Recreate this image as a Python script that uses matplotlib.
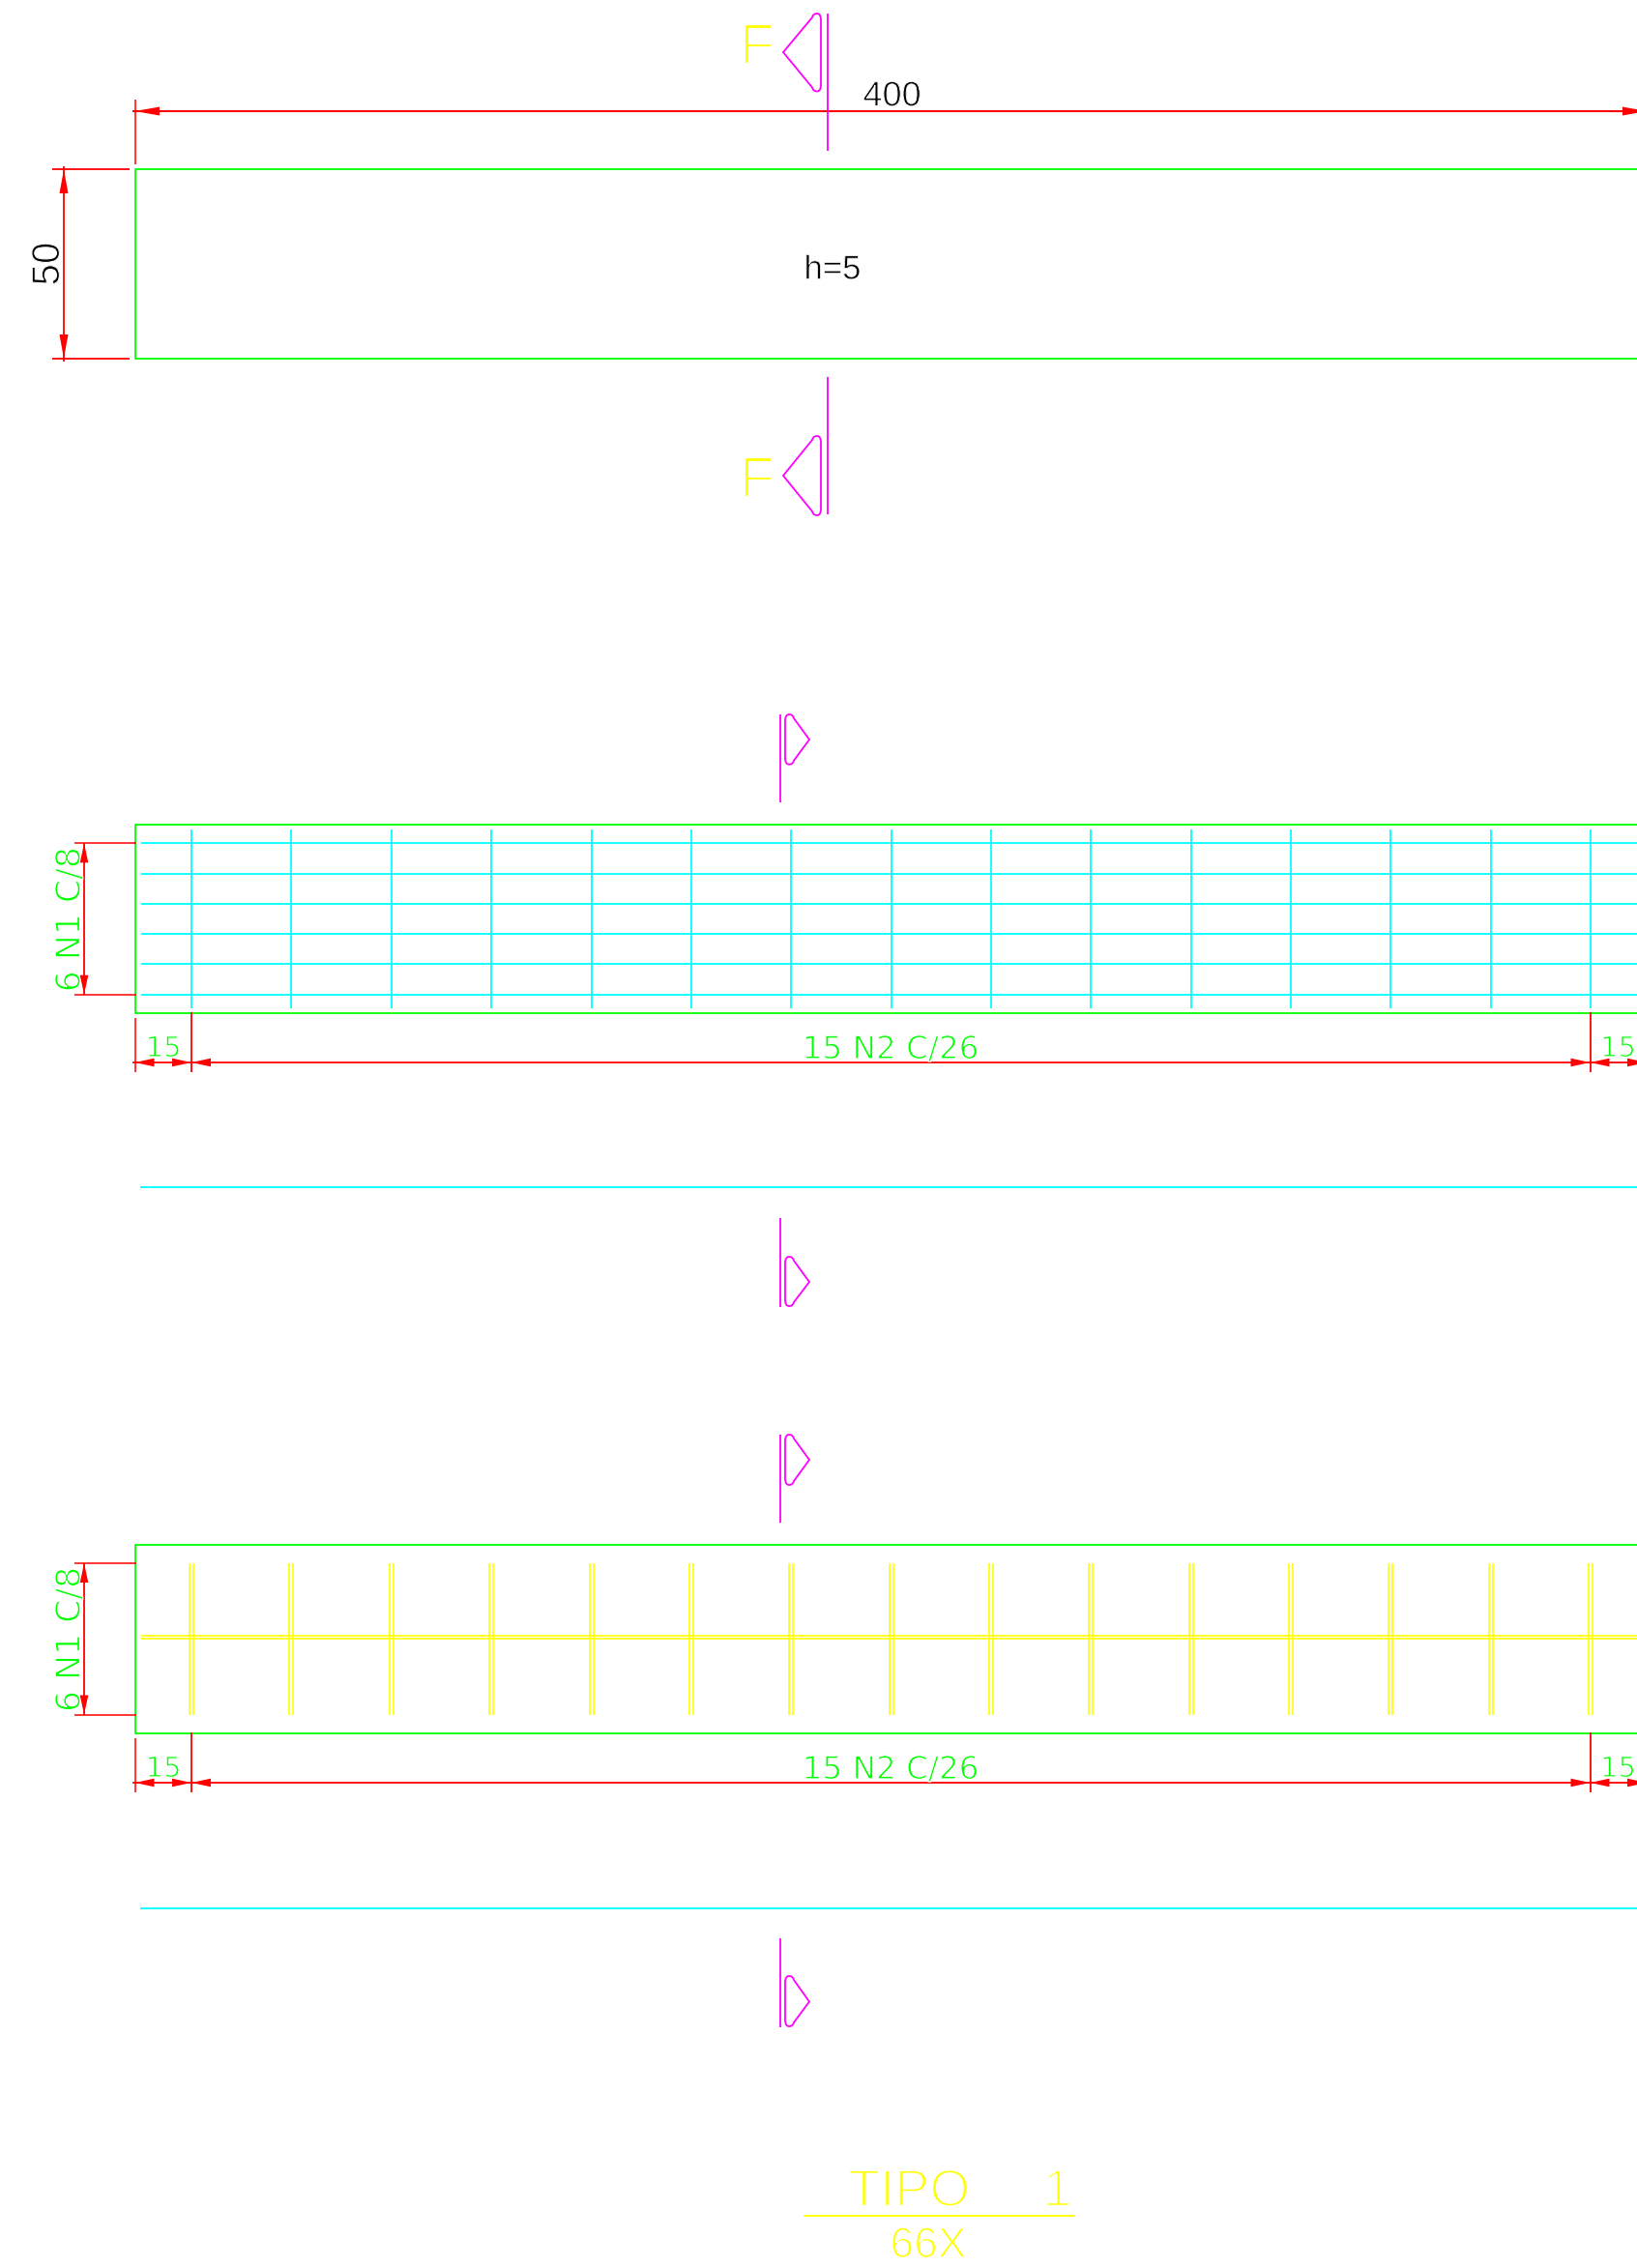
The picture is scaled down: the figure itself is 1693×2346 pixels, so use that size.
import matplotlib
matplotlib.use("Agg")
import matplotlib.pyplot as plt
import matplotlib.patheffects as pe
from matplotlib.path import Path
from matplotlib.patches import PathPatch

RED = "#ff0000"
GREEN = "#00ff00"
CYAN = "#00ffff"
MAGENTA = "#ff00ff"
YELLOW = "#ffff00"

W = 1693
H = 2346

bar_x = [198, 301.4, 404.7, 508, 611.5, 715, 818, 921.5, 1025, 1128, 1231.5, 1335, 1438, 1541.5, 1644.5]
n1_y = [872.3, 903.5, 935, 966, 997, 1028.7]
plan_box = [175.4, 371]
mesh_box = [852.7, 1048]
side_box = [1597.7, 1793]
side_bar_top = 1617
side_bar_bot = 1773.5
side_main_y = [1691.7, 1695.3]
loose_bar_y = [1228, 1973.7]

fig = plt.figure(figsize=(W / 100, H / 100), dpi=100)
ax = fig.add_axes([0, 0, 1, 1])
ax.set_xlim(0, W)
ax.set_ylim(H, 0)
ax.axis("off")


def line(xs, ys, color, lw=1.1):
    ax.plot(xs, ys, color=color, lw=lw, solid_capstyle="butt")


def head(xs, ys):
    # arrowheads go over the labels, the labels' thinning stroke would eat them otherwise
    ax.fill(xs, ys, color=RED, lw=0, zorder=5)


def arrow(x, y, dx, dy):
    # filled dimension arrowhead, tip at x, y
    length = 20
    half = 4.3
    if dx != 0:
        head([x, x + dx * length, x + dx * length], [y, y - half, y + half])
    else:
        head([x, x - half, x + half], [y, y + dy * length, y + dy * length])


def label(x, y, s, size, color, rotation=0, family="DejaVu Sans", thin=0.9):
    ax.text(x, y, s, fontsize=size, color=color, rotation=rotation, ha="center", va="center",
            family=family, path_effects=[pe.Normal(), pe.Stroke(linewidth=thin, foreground="white")])


def flag(x_line, line_top, line_bot, x_base, x_tip, top, bot, tip_y):
    line([x_line, x_line], [line_top, line_bot], MAGENTA, lw=1.3)
    s = 1 if x_tip > x_base else -1
    verts = [(x_base, top + 7), (x_base, top), (x_base + s * 4, top), (x_base + s * 8, top), (x_base + s * 9, top + 4),
             (x_tip, tip_y),
             (x_base + s * 9, bot - 4), (x_base + s * 8, bot), (x_base + s * 4, bot), (x_base, bot), (x_base, bot - 7),
             (x_base, top + 7)]
    codes = [Path.MOVETO, Path.CURVE3, Path.CURVE3, Path.CURVE3, Path.CURVE3,
             Path.LINETO,
             Path.LINETO, Path.CURVE3, Path.CURVE3, Path.CURVE3, Path.CURVE3,
             Path.LINETO]
    ax.add_patch(PathPatch(Path(verts, codes), fill=False, edgecolor=MAGENTA, lw=1.3))


def box(y_top, y_bot):
    line([W, 139.5, 139.5, W], [y_top, y_top, y_bot, y_bot], GREEN, lw=1.3)


def bottom_dims(y_box_bot, y_dim):
    line([139.5, 139.5], [y_box_bot + 5, y_dim + 10], RED)
    line([198, 198], [y_box_bot - 1, y_dim + 10], RED, lw=1.3)
    line([1644.5, 1644.5], [y_box_bot - 1, y_dim + 10], RED, lw=1.3)
    line([137, W], [y_dim, y_dim], RED, lw=1.3)
    arrow(139.5, y_dim, 1, 0)
    arrow(198, y_dim, -1, 0)
    arrow(198, y_dim, 1, 0)
    arrow(1644.5, y_dim, -1, 0)
    arrow(1644.5, y_dim, 1, 0)
    arrow(1703, y_dim, -1, 0)
    label(169, y_dim - 14, "15", 21, GREEN)
    label(1673.5, y_dim - 14, "15", 21, GREEN)
    label(921, y_dim - 13.5, "15 N2 C/26", 23.5, GREEN)


def left_dim(y_top, y_bot):
    line([77, 141], [y_top, y_top], RED)
    line([77, 141], [y_bot, y_bot], RED)
    line([87, 87], [y_top, y_bot], RED, lw=1.3)
    arrow(87, y_top, 0, 1)
    arrow(87, y_bot, 0, -1)
    label(72.5, (y_top + y_bot) / 2 + 0.5, "6 N1 C/8", 25, GREEN, rotation=90)


# plan view
box(plan_box[0], plan_box[1])
line([139.5, 139.5], [102.5, 170], RED)
line([137, W], [115, 115], RED, lw=1.5)
head([139.5, 165, 165], [115, 110.5, 119.5])
head([1703, 1678, 1678], [115, 110.5, 119.5])
line([54, 134], [175.4, 175.4], RED, lw=1.3)
line([54, 134], [371, 371], RED, lw=1.3)
line([66, 66], [172, 374], RED, lw=1.3)
head([66, 61.5, 70.5], [175.4, 200, 200])
head([66, 61.5, 70.5], [371, 346, 346])
label(922.5, 100, "400", 26, "black", family="Liberation Sans", thin=0.7)
label(861, 279, "h=5", 25, "black", family="Liberation Sans", thin=0.6)
label(50, 273, "50", 29, "black", rotation=90, family="Liberation Sans", thin=0.8)

flag(856, 14, 156, 849, 810, 14, 94.5, 54)
flag(856, 390, 532, 849, 810, 451, 533, 492)
label(783, 50.5, "F", 42, YELLOW, family="Liberation Sans", thin=1.6)
label(783, 498.5, "F", 42, YELLOW, family="Liberation Sans", thin=1.6)

# mesh plan
flag(807, 739, 830, 812, 837, 739, 790.7, 765)
box(mesh_box[0], mesh_box[1])
for y in n1_y:
    line([146, W], [y, y], CYAN, lw=1.3)
for x in bar_x:
    line([x, x], [858, 1042.7], CYAN, lw=1.3)
left_dim(n1_y[0], n1_y[-1])
bottom_dims(mesh_box[1], 1099)
line([145, W], [loose_bar_y[0], loose_bar_y[0]], CYAN, lw=1.3)
flag(807, 1260, 1352, 812, 837, 1300, 1351, 1326)

# side view
flag(807, 1484, 1575, 812, 837, 1484, 1536, 1510)
box(side_box[0], side_box[1])
for y in side_main_y:
    line([146, W], [y, y], YELLOW, lw=1.2)
for x in bar_x:
    line([x - 2, x - 2], [side_bar_top, side_bar_bot], YELLOW, lw=1.2)
    line([x + 2, x + 2], [side_bar_top, side_bar_bot], YELLOW, lw=1.2)
left_dim(side_bar_top, side_bar_bot)
bottom_dims(side_box[1], 1844)
line([145, W], [loose_bar_y[1], loose_bar_y[1]], CYAN, lw=1.3)
flag(807, 2005, 2096.5, 812, 837, 2044, 2096, 2070.5)

# title
ax.text(877, 2268, "TIPO     1", fontsize=39, color=YELLOW, ha="left", va="center", family="Liberation Sans",
        path_effects=[pe.Normal(), pe.Stroke(linewidth=1.8, foreground="white")])
line([831, 1112], [2291.7, 2291.7], YELLOW, lw=1.3)
label(960, 2323.5, "66X", 32, YELLOW, family="Liberation Sans", thin=1.2)

fig.savefig("out.png", dpi=100, facecolor="white")
